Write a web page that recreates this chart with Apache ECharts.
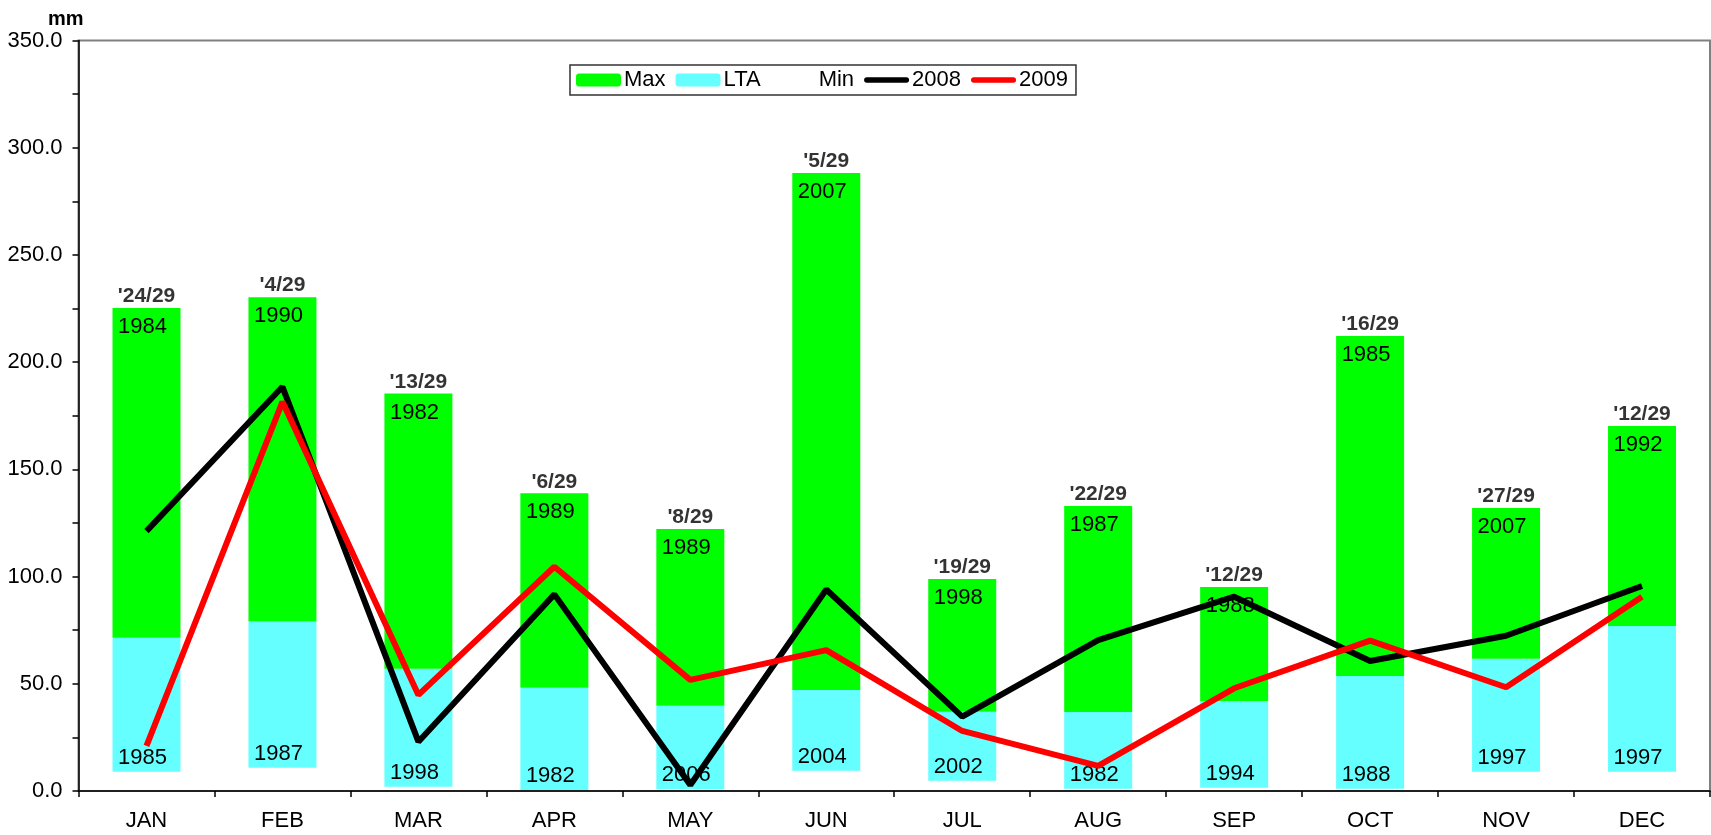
<!DOCTYPE html>
<html>
<head>
<meta charset="utf-8">
<script src="https://cdn.jsdelivr.net/npm/echarts@6/dist/echarts.min.js"></script>
<style>
html,body{margin:0;padding:0;background:#fff;}
#chart{width:1711px;height:835px;}
</style>
</head>
<body>
<div id="chart"></div>
<script>
const months = ['JAN','FEB','MAR','APR','MAY','JUN','JUL','AUG','SEP','OCT','NOV','DEC'];
const maxVals = [225.2, 230.3, 185.4, 138.8, 122.2, 288.2, 98.9, 132.9, 95.1, 212.2, 132.0, 170.2];
const ltaVals = [71.5, 79.0, 57.0, 48.2, 39.8, 47.1, 37.0, 36.8, 42.0, 53.6, 61.7, 76.9];
const minVals = [9.0, 10.9, 2.0, 0.5, 0.8, 9.5, 4.8, 1.1, 1.5, 1.1, 9.0, 9.0];
const y2008 = [121.2, 188.5, 23.0, 91.7, 2.8, 94.0, 34.7, 70.4, 90.6, 60.6, 72.4, 95.6];
const y2009 = [21.0, 181.5, 44.8, 104.6, 51.8, 65.7, 28.0, 11.7, 47.9, 70.1, 48.4, 90.6];
const maxYears = ['1984','1990','1982','1989','1989','2007','1998','1987','1988','1985','2007','1992'];
const minYears = ['1985','1987','1998','1982','2006','2004','2002','1982','1994','1988','1997','1997'];
const rankLabels = ["'24/29","'4/29","'13/29","'6/29","'8/29","'5/29","'19/29","'22/29","'12/29","'16/29","'27/29","'12/29"];
const yTicks = {min: 0, max: 350, interval: 50};

const FONT = "'Liberation Sans', Arial, sans-serif";
const ltaSeg = ltaVals.map((v, i) => +(v - minVals[i]).toFixed(2));
const maxSeg = maxVals.map((v, i) => +(v - ltaVals[i]).toFixed(2));
const lineIcon = 'path://M3,0 H47 A3,3 0 0 1 47,6 H3 A3,3 0 0 1 3,0 Z';

const chart = echarts.init(document.getElementById('chart'), null, {renderer: 'canvas'});
chart.setOption({
  animation: false,
  backgroundColor: '#ffffff',
  textStyle: {fontFamily: FONT, color: '#000'},
  title: {
    text: 'mm', left: 43, top: 4,
    textStyle: {fontFamily: FONT, fontSize: 20, fontWeight: 'bold', color: '#000'}
  },
  legend: {
    data: [
      {name: 'Max'},
      {name: 'LTA'},
      {name: 'Min'},
      {name: '2008', icon: lineIcon},
      {name: '2009', icon: lineIcon}
    ],
    left: 570, top: 65,
    itemWidth: 45, itemHeight: 13, itemGap: 10,
    padding: [4, 8, 4, 6],
    borderColor: '#333', borderWidth: 1.5,
    textStyle: {fontFamily: FONT, fontSize: 22, color: '#000', padding: [0, 0, 0, -2]},
    selectedMode: false
  },
  grid: {left: 78.5, right: 1, top: 40.5, bottom: 44, show: true, borderColor: '#808080', borderWidth: 2, backgroundColor: 'transparent'},
  xAxis: {
    type: 'category',
    data: months,
    boundaryGap: true,
    axisLine: {lineStyle: {color: '#000', width: 1.5}},
    axisTick: {show: true, length: 6, lineStyle: {color: '#000', width: 1.5}},
    axisLabel: {fontFamily: FONT, fontSize: 22, color: '#000', margin: 19}
  },
  yAxis: {
    type: 'value',
    min: yTicks.min, max: yTicks.max, interval: yTicks.interval,
    axisLine: {show: true, lineStyle: {color: '#000', width: 1.5}},
    axisTick: {show: true, length: 6, lineStyle: {color: '#000', width: 1.5}},
    minorTick: {show: true, splitNumber: 2, length: 6, lineStyle: {color: '#000', width: 1.5}},
    splitLine: {show: false},
    axisLabel: {fontFamily: FONT, fontSize: 22, color: '#000', margin: 16, formatter: v => v.toFixed(1)}
  },
  series: [
    {
      name: 'Min', type: 'bar', stack: 'b', barWidth: '50%', z: 2,
      itemStyle: {color: 'rgba(255,255,255,0)'},
      data: minVals
    },
    {
      name: 'LTA', type: 'bar', stack: 'b', barWidth: '50%', z: 2,
      itemStyle: {color: '#66FFFF'},
      label: {
        show: true, position: 'insideBottom', distance: 3, offset: [-4, 0],
        fontFamily: FONT, fontSize: 22, color: '#000',
        formatter: p => minYears[p.dataIndex]
      },
      data: ltaSeg
    },
    {
      name: 'Max', type: 'bar', stack: 'b', barWidth: '50%', z: 2,
      itemStyle: {color: '#00FF00'},
      label: {
        show: true, position: 'insideTop', distance: 8, offset: [-4, 0],
        fontFamily: FONT, fontSize: 22, color: '#000',
        formatter: p => maxYears[p.dataIndex]
      },
      data: maxSeg
    },
    {
      name: 'rank', type: 'scatter', symbolSize: 0, z: 4, silent: true,
      label: {
        show: true, position: 'top', distance: 1,
        fontFamily: FONT, fontSize: 21, fontWeight: 'bold', color: '#000',
        formatter: p => rankLabels[p.dataIndex]
      },
      data: maxVals
    },
    {
      name: '2008', type: 'line', z: 5, symbol: 'none',
      lineStyle: {color: '#000000', width: 6},
      itemStyle: {color: '#000000'},
      data: y2008
    },
    {
      name: '2009', type: 'line', z: 6, symbol: 'none',
      lineStyle: {color: '#FF0000', width: 6},
      itemStyle: {color: '#FF0000'},
      data: y2009
    }
  ]
});
</script>
</body>
</html>
